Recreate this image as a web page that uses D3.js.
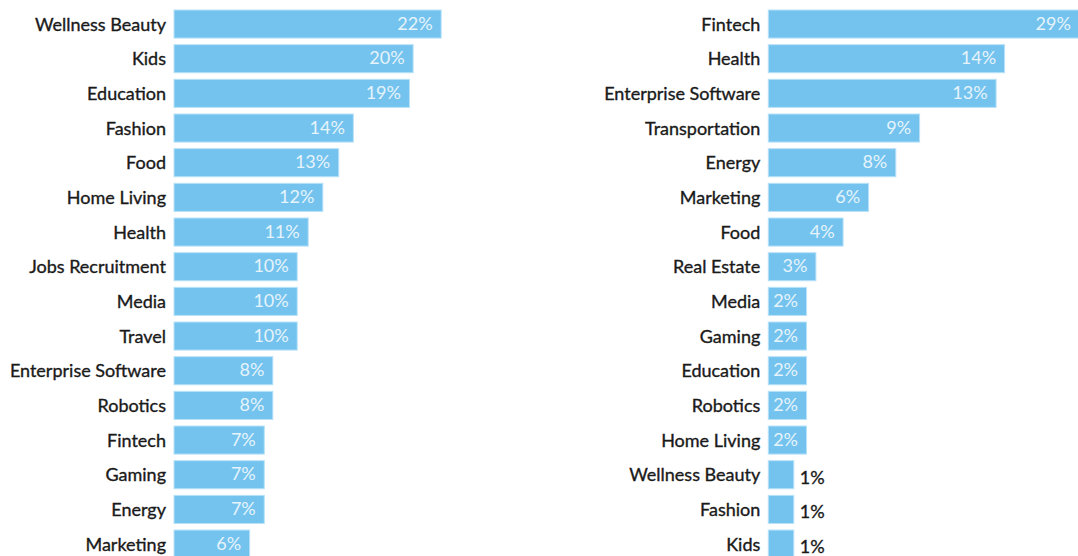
<!DOCTYPE html>
<html>
<head>
<meta charset="utf-8">
<script src="https://cdn.jsdelivr.net/npm/d3@7"></script>
<style>
  html, body { margin: 0; padding: 0; background: #ffffff; }
  svg { display: block; }
  text { font-family: Lato, "Open Sans", sans-serif; }
</style>
</head>
<body>
<svg id="chart" width="1078" height="556"></svg>
<script>
// Left panel
const leftCategories = ["Wellness Beauty","Kids","Education","Fashion","Food","Home Living","Health","Jobs Recruitment","Media","Travel","Enterprise Software","Robotics","Fintech","Gaming","Energy","Marketing"];
const leftValues = [21.9,19.6,19.3,14.7,13.5,12.2,11.0,10.1,10.1,10.1,8.1,8.1,7.4,7.4,7.4,6.2];
const leftLabels = ["22%","20%","19%","14%","13%","12%","11%","10%","10%","10%","8%","8%","7%","7%","7%","6%"];

// Right panel
const rightCategories = ["Fintech","Health","Enterprise Software","Transportation","Energy","Marketing","Food","Real Estate","Media","Gaming","Education","Robotics","Home Living","Wellness Beauty","Fashion","Kids"];
const rightValues = [29,13.9,13.4,8.9,7.5,5.9,4.4,2.8,2.25,2.25,2.25,2.25,2.25,1.5,1.5,1.5];
const rightLabels = ["29%","14%","13%","9%","8%","6%","4%","3%","2%","2%","2%","2%","2%","1%","1%","1%"];

const svg = d3.select("#chart");
const FONT = 18;

function panel(cats, vals, labels, x0, xMaxVal, pxPerUnit) {
  const y = d3.scaleBand().domain(cats).range([6.7, 561.4]).paddingInner(0.19).paddingOuter(0.095);
  const x = d3.scaleLinear().domain([0, xMaxVal]).range([x0, x0 + xMaxVal * pxPerUnit]).clamp(true);
  const g = svg.append("g");
  const data = cats.map((c, i) => ({c, v: vals[i], l: labels[i]}));

  g.selectAll("rect").data(data).join("rect")
    .attr("x", x(0))
    .attr("y", d => y(d.c))
    .attr("width", d => x(d.v) - x(0))
    .attr("height", y.bandwidth())
    .attr("fill", "#73c3ee")
    .attr("stroke", "#b8e2f8")
    .attr("stroke-width", 1);

  g.selectAll("text.cat").data(data).join("text")
    .attr("class", "cat")
    .attr("x", x(0) - 8)
    .attr("y", d => y(d.c) + y.bandwidth() / 2 + 2)
    .attr("text-anchor", "end")
    .attr("dominant-baseline", "middle")
    .attr("font-size", FONT)
    .attr("fill", "#1a1a1a")
    .attr("stroke", "#1a1a1a")
    .attr("stroke-width", 0.35)
    .text(d => d.c);

  g.selectAll("text.val").data(data).join("text")
    .attr("class", "val")
    .each(function(d) {
      const w = x(d.v) - x(0);
      const sel = d3.select(this);
      if (w > 30) {
        sel.attr("x", x(d.v) - 8.5)
          .attr("y", y(d.c) + y.bandwidth() / 2 + 1)
          .attr("text-anchor", "end")
          .attr("fill", "#e6f3fb");
      } else {
        sel.attr("x", x(d.v) + 6)
          .attr("y", y(d.c) + y.bandwidth() / 2 + 4.5)
          .attr("text-anchor", "start")
          .attr("fill", "#1a1a1a")
          .attr("stroke", "#1a1a1a")
          .attr("stroke-width", 0.35);
      }
    })
    .attr("dominant-baseline", "middle")
    .attr("font-size", FONT)
    .text(d => d.l);
}

panel(leftCategories, leftValues, leftLabels, 174, 22, 12.2);
panel(rightCategories, rightValues, rightLabels, 768.3, 18.3, 17);
</script>
</body>
</html>
